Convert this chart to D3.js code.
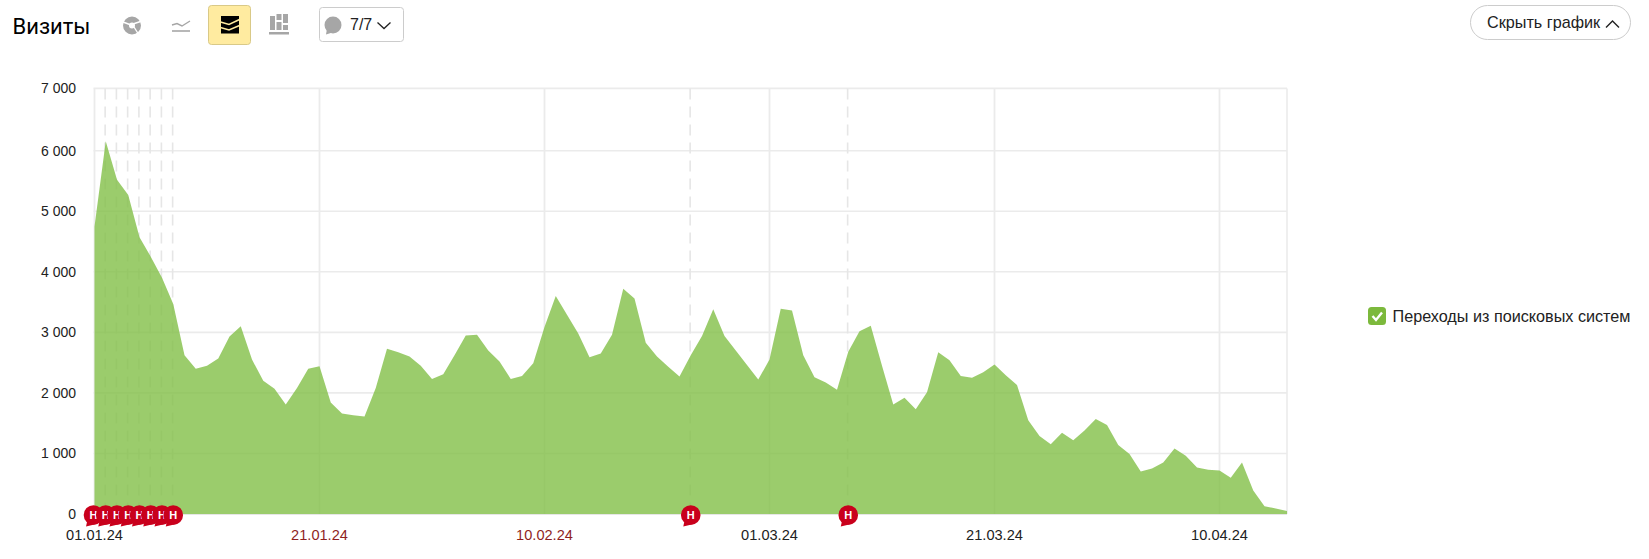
<!DOCTYPE html>
<html lang="ru"><head><meta charset="utf-8">
<script src="https://cdn.jsdelivr.net/npm/d3@7"></script>
<style>html,body{margin:0;background:#fff}svg{display:block}text{font-family:"Liberation Sans",Arial,sans-serif}</style>
</head><body><svg id="c" width="1649" height="559"></svg>
<script>
const visits=[4750,6150,5520,5270,4570,4250,3900,3470,2620,2400,2450,2570,2930,3100,2550,2200,2070,1810,2080,2400,2440,1840,1660,1630,1610,2080,2730,2670,2600,2450,2230,2310,2620,2950,2960,2700,2520,2230,2280,2490,3090,3600,3290,2980,2590,2650,2960,3720,3560,2830,2600,2430,2270,2620,2940,3380,2940,2700,2460,2220,2550,3390,3360,2620,2260,2170,2050,2680,3020,3110,2450,1810,1920,1730,2010,2670,2540,2280,2250,2340,2470,2290,2130,1550,1290,1150,1340,1220,1380,1570,1470,1140,990,700,750,850,1080,960,770,730,720,600,850,390,130,90,50];
const yTicks=[0,1000,2000,3000,4000,5000,6000,7000];
const xTickDays=[0,20,40,60,80,100];
const xTickLabels=["01.01.24","21.01.24","10.02.24","01.03.24","21.03.24","10.04.24"];
const weekendLabels=["21.01.24","10.02.24"];
const noteDays=[0,1,2,3,4,5,6,7,53,67];
const legendLabel="Переходы из поисковых систем";

const svg=d3.select("#c");
const x=d3.scaleLinear().domain([0,106]).range([94.5,1287]);
const y=d3.scaleLinear().domain([0,6000,7000]).range([514,150.7,88.4]);
const grid="#ebebeb";

// grid
const g=svg.append("g");
g.selectAll("line.h").data(yTicks.slice(1)).join("line").attr("x1",x(0)-1).attr("x2",x(106))
 .attr("y1",d=>y(d)).attr("y2",d=>y(d)).attr("stroke",grid).attr("stroke-width",1.6);
g.selectAll("line.v").data(xTickDays).join("line").attr("x1",d=>x(d)).attr("x2",d=>x(d))
 .attr("y1",y(7000)).attr("y2",y(0)).attr("stroke",grid).attr("stroke-width",1.8);
g.append("line").attr("x1",x(106)).attr("x2",x(106)).attr("y1",y(7000)).attr("y2",y(0)).attr("stroke",grid).attr("stroke-width",1.6);
g.selectAll("line.n").data(noteDays.filter(d=>d>0)).join("line").attr("x1",d=>x(d)-.6).attr("x2",d=>x(d)-.6)
 .attr("y1",y(7000)).attr("y2",y(0)).attr("stroke","#e6e6e6").attr("stroke-width",1.6).attr("stroke-dasharray","11 7");

// area
const area=d3.area().x((d,i)=>x(i)).y0(y(0)).y1(d=>y(d));
svg.append("path").datum(visits).attr("d",area).attr("fill","#82bf47").attr("fill-opacity",.8);
svg.append("line").attr("x1",x(0)).attr("x2",x(106)).attr("y1",y(0)+.5).attr("y2",y(0)+.5).attr("stroke","#e6e6e6");

// axes
const yAxis=d3.axisLeft(y).tickValues(yTicks).tickSize(0).tickPadding(0)
 .tickFormat(d=>d===0?"0":d3.format(",")(d).replace(",", " "));
const ya=svg.append("g").attr("transform","translate(76,0)").call(yAxis);
ya.select(".domain").remove();
ya.selectAll("text").attr("font-size",14).attr("fill","#222").style("font-family",'"Liberation Sans",Arial,sans-serif').attr("dy",".32em");

const xAxis=d3.axisBottom(x).tickValues(xTickDays).tickSize(0).tickPadding(0).tickFormat((d,i)=>xTickLabels[i]);
const xa=svg.append("g").attr("transform","translate(-0.5,525)").call(xAxis);
xa.select(".domain").remove();
xa.selectAll("text").attr("font-size",14.6).style("font-family",'"Liberation Sans",Arial,sans-serif').attr("dy","1em")
 .attr("fill",(d,i)=>weekendLabels.includes(xTickLabels[i])?"#8f1f1f":"#222");

// note markers
const notes=svg.append("g").selectAll("g").data(noteDays).join("g").attr("transform",d=>`translate(${x(d)+(d===0?-1:0)},515)`);
notes.append("path").attr("d","M-6,5 L-7.5,11.5 L3,9 Z").attr("fill","#c9001c");
notes.append("circle").attr("r",9.8).attr("fill","#c9001c");
notes.append("text").text("Н").attr("text-anchor","middle").attr("y",4).attr("font-size",11).attr("font-weight",700).attr("fill","#fff");

// header
svg.append("text").text("Визиты").attr("x",12.5).attr("y",34).attr("font-size",22).attr("fill","#000").style("font-family","Roboto,'Liberation Sans',sans-serif");
const ic="#a6a6a6";
// pie icon
svg.append("circle").attr("cx",132).attr("cy",25.5).attr("r",6).attr("fill","none").attr("stroke",ic).attr("stroke-width",6);
svg.append("path").attr("d","M133,24 L142,21 M131,25 L123,22 M134,27 L139,35").attr("stroke","#fff").attr("stroke-width",1.4);
// line icon
svg.append("path").attr("d","M172,25 L177,23.5 L182,26 L190,21").attr("fill","none").attr("stroke",ic).attr("stroke-width",1.4);
svg.append("path").attr("d","M172,31 H190").attr("fill","none").attr("stroke",ic).attr("stroke-width",1.6);
// active area button
svg.append("rect").attr("x",208.5).attr("y",5.5).attr("width",42).attr("height",39).attr("rx",3).attr("fill","#ffeba0").attr("stroke","#d9c987");
svg.append("rect").attr("x",221).attr("y",16).attr("width",18).attr("height",17.5).attr("fill","#000");
svg.append("path").attr("d","M220.5,22 L229,24.5 L239.5,19.5 M220.5,27.5 L229,30 L239.5,25.5").attr("fill","none").attr("stroke","#ffeba0").attr("stroke-width",1.6);
// stacked bars icon
svg.append("g").attr("fill",ic).selectAll("rect").data([[270,16,5,14],[276.5,14,5,6],[276.5,22,5,8],[283,14,5,9],[283,25,5,5],[269,32,20,2.5]]).join("rect")
 .attr("x",d=>d[0]).attr("y",d=>d[1]).attr("width",d=>d[2]).attr("height",d=>d[3]);
// notes dropdown
svg.append("rect").attr("x",319.5).attr("y",7.5).attr("width",84).attr("height",34).attr("rx",3).attr("fill","#fff").attr("stroke","#ccc");
svg.append("circle").attr("cx",333).attr("cy",25).attr("r",8.5).attr("fill",ic);
svg.append("path").attr("d","M327,29 L326,34.5 L334,32 Z").attr("fill",ic);
svg.append("text").text("7/7").attr("x",350).attr("y",30).attr("font-size",16).attr("fill","#222");
svg.append("path").attr("d","M377.5,22.5 L384,28.5 L390.5,22.5").attr("fill","none").attr("stroke","#222").attr("stroke-width",1.3);
// hide button
svg.append("rect").attr("x",1470.5).attr("y",5.5).attr("width",160).attr("height",34).attr("rx",17).attr("fill","#fff").attr("stroke","#ccc");
svg.append("text").text("Скрыть график").attr("x",1487).attr("y",28).attr("font-size",16.2).attr("fill","#222");
svg.append("path").attr("d","M1606,27.5 L1612.5,21 L1619,27.5").attr("fill","none").attr("stroke","#222").attr("stroke-width",1.4);
// legend
svg.append("rect").attr("x",1368).attr("y",307).attr("width",18).attr("height",18).attr("rx",3.5).attr("fill","#7cb93c");
svg.append("path").attr("d","M1372.5,316 L1376,320 L1382,312.5").attr("fill","none").attr("stroke","#fff").attr("stroke-width",2.4);
svg.append("text").text(legendLabel).attr("x",1392.5).attr("y",322).attr("font-size",16.2).attr("fill","#222");
</script></body></html>
